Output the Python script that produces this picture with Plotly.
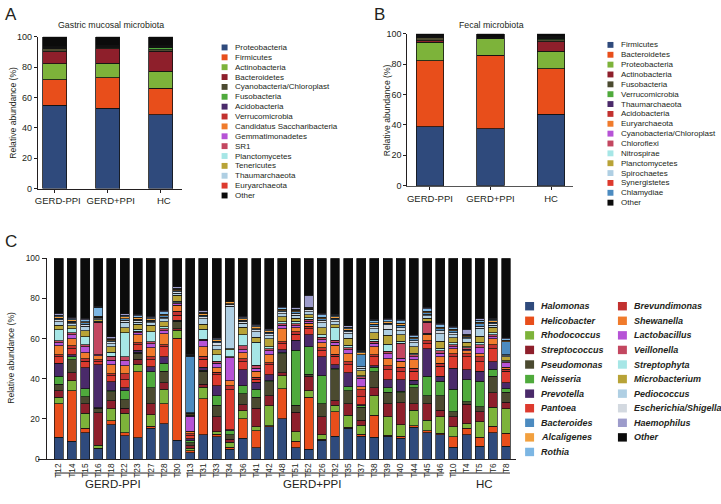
import plotly.graph_objects as go

W, H = 721, 504
FONT = "Liberation Sans, Arial, Helvetica, sans-serif"
TXT = "#231f20"
AX = "#231f20"


def px(x):
    return x / W


def py(y):
    return 1 - y / H


# ---------------- Panel A: gastric mucosal microbiota (phylum) ----------------
groups = ["GERD-PPI", "GERD+PPI", "HC"]
gastric_phyla = ["Proteobacteria", "Firmicutes", "Actinobacteria", "Bacteroidetes",
                 "Cyanobacteria/Chloroplast", "Fusobacteria", "Acidobacteria",
                 "Verrucomicrobia", "Candidatus Saccharibacteria", "Gemmatimonadetes",
                 "SR1", "Planctomycetes", "Tenericutes", "Thaumarchaeota",
                 "Euryarchaeota", "Other"]
gastric_colors = ["#2f4a7c", "#e84e1b", "#7db33a", "#8e1f2b", "#4b4a30", "#4faa3c",
                  "#4a2a6a", "#c2312f", "#f07b2c", "#b653d6", "#c34760", "#a6e6e6",
                  "#b8a337", "#afcfe3", "#dd3a2e", "#0b0b0b"]
gastric_gerd_minus_ppi = [55.0, 16.7, 10.5, 7.7, 2.0, 0.3, 0.2, 0.2, 0.2, 0.1, 0.1, 0.1, 0.1, 0.1, 0.1, 6.6]
gastric_gerd_plus_ppi = [52.9, 19.9, 9.6, 9.5, 1.2, 0.2, 0.1, 0.2, 0.2, 0.1, 0.1, 0.1, 0.1, 0.1, 0.1, 5.6]
gastric_hc = [48.6, 17.6, 10.9, 13.3, 1.0, 1.5, 0.1, 0.3, 0.2, 0.1, 0.1, 0.1, 0.1, 0.1, 0.1, 5.8]

# ---------------- Panel B: fecal microbiota (phylum) ----------------
fecal_phyla = ["Firmicutes", "Bacteroidetes", "Proteobacteria", "Actinobacteria",
               "Fusobacteria", "Verrucomicrobia", "Thaumarchaeota", "Acidobacteria",
               "Euryarchaeota", "Cyanobacteria/Chloroplast", "Chloroflexi", "Nitrospirae",
               "Planctomycetes", "Spirochaetes", "Synergistetes", "Chlamydiae", "Other"]
fecal_colors = ["#2f4a7c", "#e84e1b", "#7db33a", "#8e1f2b", "#4b4a30", "#4faa3c",
                "#4a2a6a", "#c2312f", "#f07b2c", "#b653d6", "#c34760", "#a6e6e6",
                "#b8a337", "#afcfe3", "#dd3a2e", "#4c8bc0", "#0b0b0b"]
fecal_gerd_minus_ppi = [38.9, 43.3, 12.2, 1.0, 2.2, 0.3, 0.1, 0.2, 0.1, 0.1, 0.1, 0.1, 0.1, 0.1, 0.1, 0.1, 1.0]
fecal_gerd_plus_ppi = [37.6, 48.2, 10.8, 0.1, 0.1, 0.1, 0.05, 0.05, 0.05, 0.05, 0.05, 0.05, 0.05, 0.05, 0.05, 0.05, 2.6]
fecal_hc = [47.1, 29.7, 11.8, 6.0, 1.3, 1.0, 0.2, 0.3, 0.1, 0.2, 0.1, 0.1, 0.1, 0.1, 0.1, 0.1, 1.7]

# ---------------- Panel C: gastric mucosal genera per sample ----------------
samples = ["T12", "T14", "T15", "T16", "T18", "T22", "T23", "T27", "T28", "T30",
           "T13", "T31", "T33", "T34", "T36", "T41", "T42", "T48", "T51", "T52",
           "T26", "T32", "T35", "T37", "T38", "T39", "T40", "T44", "T45", "T46",
           "T10", "T4", "T5", "T6", "T8"]
sample_groups = [("GERD-PPI", "T12", "T30"), ("GERD+PPI", "T13", "T46"), ("HC", "T10", "T8")]

halomonas = [10.9, 9, 13, 5.2, 17, 11.7, 10.6, 15.4, 17.7, 9.4, 3.2, 12.2, 11.2, 4.8, 10.5, 5.7, 16, 20.2, 5.6, 4.8,
             9.5, 11.3, 15.4, 11.5, 10.8, 11.3, 10.5, 15.8, 13, 12.1, 5.8, 12, 6.4, 13, 6.4]
helicobacter = [16.6, 25, 2.4, 0.3, 2, 1.3, 33, 1, 9.8, 50.8, 1, 17.8, 1.2, 1.2, 9.5, 8.3, 0.5, 14.8, 3.2, 25.9,
                0.5, 12.2, 0.5, 0.8, 11, 0.5, 0.8, 0.8, 1.2, 0.8, 5.3, 3.3, 4.6, 3.3, 6.5]
rhodococcus = [3.2, 5, 7.4, 1.5, 6, 9.8, 3.6, 5.6, 7.3, 4, 1.2, 5.8, 1.2, 2.5, 4, 2.2, 10, 6.5, 4.9, 3.3,
               2, 3.2, 5.9, 4.5, 9.8, 9.2, 5.7, 7.7, 5.2, 8.1, 4.9, 2.4, 7.6, 9.5, 12.2]
streptococcus = [3.3, 4, 4.8, 16, 4, 2.4, 2.4, 5.5, 3.2, 0.8, 1.2, 1.5, 7.4, 1.5, 3, 9, 5, 1.5, 9.7, 7.3,
                 9, 2.4, 5.7, 2.5, 4, 6.5, 11, 3.2, 8.1, 3.3, 5, 9.7, 4.9, 7.3, 3.3]
pseudomonas = [3.2, 6.5, 3.4, 2.2, 4.5, 4.4, 3.2, 8, 5.7, 3.3, 1.5, 6.5, 5.7, 2, 5.5, 5.5, 7, 9.5, 3.3, 1,
               6.5, 15.4, 6.5, 6.5, 8, 5.7, 5, 8.1, 4.1, 7.3, 2.5, 1.2, 2.5, 8.2, 4.8]
neisseria = [4.1, 1.5, 4, 0.3, 0.5, 4.5, 0.5, 8, 4.1, 0.3, 1, 0.5, 4.8, 2, 4, 4, 0.5, 0.5, 27.5, 13.5,
             14, 0.5, 2, 0.8, 2, 2.4, 0.8, 1.6, 9.7, 7.2, 11.3, 11, 12.8, 3.5, 1.7]
prevotella = [6.5, 1, 10.5, 21.5, 4.5, 1.5, 1, 2.5, 3.2, 0.5, 1, 1.5, 4.9, 0.5, 8, 3.5, 3, 1.5, 5, 6,
              9.5, 2, 7, 0.5, 0.8, 4, 5.8, 2, 13.7, 2.5, 10.5, 4.8, 4.9, 3.7, 3.2]
pantoea = [3.2, 3, 3.3, 1.5, 3, 3.8, 2.5, 3.5, 5, 2.4, 1.5, 4, 5.6, 20, 4, 1.5, 5, 3, 3, 3.2,
           3, 4.2, 4, 4, 4.6, 4.9, 4, 4.5, 2.4, 4.8, 5.7, 6.5, 4.8, 6.5, 5.7]
brevundimonas = [1.0, 1.5, 1.2, 1, 1, 3, 1, 1.5, 1, 2, 1, 1.5, 1.2, 2, 1.5, 1, 1, 1, 1.2, 1.2,
                 1.5, 1, 1.5, 3.5, 1, 2, 2, 1.5, 1.5, 1.5, 1.5, 1.5, 2.5, 2, 1]
shewanella = [4.4, 3.5, 3, 2, 4.5, 4, 4, 4.5, 5.5, 3, 1.3, 4.5, 2.2, 2.5, 3, 3, 4, 6.5, 2, 1.5,
              2.5, 4.4, 4, 1.5, 4, 3.5, 3, 4.2, 3.3, 3.4, 2.5, 1.5, 1.5, 3, 1]
lactobacillus = [1.6, 2, 3, 0.5, 2.3, 2.5, 1, 2, 1.5, 0.8, 7.5, 3.3, 2.4, 11.5, 1.5, 1.5, 2, 1.5, 1, 1,
                 1.5, 1.6, 2, 4.2, 1.6, 2.5, 1.5, 1.5, 0.5, 1.8, 1, 0.8, 3, 1, 2.2]
veillonella = [0.8, 0.8, 0.8, 16, 2, 2, 0.8, 0.8, 0.8, 0.6, 0.5, 0.6, 1, 0.5, 2, 1.5, 1, 0.8, 1, 0.8,
               1.2, 1, 1, 0.8, 1, 1.2, 7.5, 1, 5.5, 1.2, 1, 0.6, 1.5, 1, 0.5]
streptophyta = [5.7, 2, 4, 0.5, 2, 12, 1, 5, 1, 0.6, 0.3, 5, 3.1, 3.5, 5.5, 11.5, 1, 1, 1.2, 0.8,
                1.2, 6.2, 1.2, 0.5, 1, 3.5, 1, 0.8, 0.5, 1.2, 1, 0.6, 1.2, 1, 0.5]
microbacterium = [2.0, 1.5, 3.2, 0.8, 2.5, 2.4, 2.5, 3.3, 2.5, 3, 0.3, 2.5, 2.5, 0.5, 3.5, 2.5, 4, 2.5, 1.5, 1.5,
                  3.5, 1.5, 3.5, 2.3, 3.4, 4.5, 3.3, 3.3, 1.5, 3.5, 2.5, 2.3, 3, 2.5, 1.9]
pediococcus = [1.8, 1, 2, 0.6, 1.5, 2.7, 1, 1.2, 1.5, 1, 0.3, 2.6, 2, 21, 2.2, 2.7, 1.5, 1.5, 1.5, 1.5,
               2.5, 1.5, 2.1, 1.4, 2, 3, 2, 2, 1.2, 3.6, 1.5, 1.6, 4, 1, 0.5]
escherichia_shigella = [1.0, 0.8, 1.2, 0.5, 1.2, 1, 1, 0.8, 0.8, 0.8, 0.3, 1, 1.6, 1, 0.8, 1, 1, 1, 1, 1,
                        1.2, 1, 1, 0.6, 1.2, 2.1, 1.5, 1, 0.7, 1.5, 1, 0.6, 1, 0.8, 0.5]
bacteroides = [0.8, 0.6, 0.6, 0.3, 0.5, 0.8, 0.6, 0.5, 0.8, 0.5, 28, 0.8, 0.6, 0.3, 0.6, 0.6, 0.6, 0.6, 0.8, 0.4,
               0.8, 0.6, 0.8, 6, 0.8, 0.8, 1.2, 0.8, 0.8, 1, 0.8, 0.6, 1.2, 0.8, 6.5]
alcaligenes = [0.8, 0.6, 0.6, 0.5, 0.6, 1, 1, 0.8, 0.8, 0.8, 0.3, 1, 0.8, 0.9, 0.8, 0.8, 0.8, 0.8, 0.8, 0.4,
               0.8, 0.8, 0.8, 1, 0.8, 0.8, 1, 0.8, 0.8, 0.8, 0.8, 0.6, 0.8, 0.8, 0.8]
rothia = [0.8, 0.6, 1, 4.5, 0.4, 0.8, 0.6, 0.5, 1.2, 0.5, 0.3, 0.6, 0.5, 0.3, 0.5, 0.6, 0.5, 0.6, 0.5, 0.5,
          1.2, 0.8, 0.8, 0.8, 1.2, 1, 1.2, 0.8, 1.2, 1.2, 0.8, 0.6, 1, 0.6, 0.8]
haemophilus = [0.8, 0.6, 0.6, 0.3, 1, 0.8, 0.8, 0.6, 0.7, 0.6, 0.5, 0.8, 0.6, 0.3, 0.6, 0.6, 0.6, 0.6, 0.8, 6,
               0.6, 0.6, 0.6, 0.6, 0.6, 0.6, 0.8, 0.6, 0.8, 0.8, 0.6, 2.5, 0.8, 0.5, 0.5]
other_genera = [27.5, 29.5, 30, 24, 39, 27.6, 27.9, 29, 25.9, 14.3, 47.8, 26, 39.5, 21.2, 29, 33, 35, 24.1, 24.5, 18.4,
                27.5, 27.8, 33.7, 45.7, 30.4, 30, 30.4, 38, 24.3, 32.4, 34, 35.3, 30, 30, 39.5]

genus_values = {
    "Halomonas": halomonas, "Helicobacter": helicobacter, "Rhodococcus": rhodococcus,
    "Streptococcus": streptococcus, "Pseudomonas": pseudomonas, "Neisseria": neisseria,
    "Prevotella": prevotella, "Pantoea": pantoea, "Bacteroides": bacteroides,
    "Alcaligenes": alcaligenes, "Rothia": rothia, "Brevundimonas": brevundimonas,
    "Shewanella": shewanella, "Lactobacillus": lactobacillus, "Veillonella": veillonella,
    "Streptophyta": streptophyta, "Microbacterium": microbacterium, "Pediococcus": pediococcus,
    "Escherichia/Shigella": escherichia_shigella, "Haemophilus": haemophilus, "Other": other_genera,
}
genus_colors = {
    "Halomonas": "#2f4a7c", "Helicobacter": "#e84e1b", "Rhodococcus": "#7db33a",
    "Streptococcus": "#8e1f2b", "Pseudomonas": "#4b4a30", "Neisseria": "#4faa3c",
    "Prevotella": "#4a2a6a", "Pantoea": "#dd3a2e", "Bacteroides": "#4c8bc0",
    "Alcaligenes": "#f2a03e", "Rothia": "#7cb6e3", "Brevundimonas": "#c2312f",
    "Shewanella": "#f07b2c", "Lactobacillus": "#b653d6", "Veillonella": "#c34760",
    "Streptophyta": "#a6e6e6", "Microbacterium": "#b8a337", "Pediococcus": "#afcfe3",
    "Escherichia/Shigella": "#d3d9e0", "Haemophilus": "#9d9ccb", "Other": "#0b0b0b",
}
legend_col1 = ["Halomonas", "Helicobacter", "Rhodococcus", "Streptococcus", "Pseudomonas",
               "Neisseria", "Prevotella", "Pantoea", "Bacteroides", "Alcaligenes", "Rothia"]
legend_col2 = ["Brevundimonas", "Shewanella", "Lactobacillus", "Veillonella", "Streptophyta",
               "Microbacterium", "Pediococcus", "Escherichia/Shigella", "Haemophilus", "Other"]
stack_order = ["Halomonas", "Helicobacter", "Rhodococcus", "Streptococcus", "Pseudomonas",
               "Neisseria", "Prevotella", "Pantoea", "Brevundimonas", "Shewanella",
               "Lactobacillus", "Veillonella", "Streptophyta", "Microbacterium", "Pediococcus",
               "Escherichia/Shigella", "Bacteroides", "Alcaligenes", "Rothia", "Haemophilus", "Other"]

fig = go.Figure()
LINE = dict(color="#111111", width=0.8)

# Panel A bars
for j, name in enumerate(gastric_phyla):
    fig.add_trace(go.Bar(
        x=groups, y=[gastric_gerd_minus_ppi[j], gastric_gerd_plus_ppi[j], gastric_hc[j]],
        name=name, marker=dict(color=gastric_colors[j], line=LINE), width=0.45,
        xaxis="x", yaxis="y", showlegend=False))

# Panel B bars
for j, name in enumerate(fecal_phyla):
    fig.add_trace(go.Bar(
        x=groups, y=[fecal_gerd_minus_ppi[j], fecal_gerd_plus_ppi[j], fecal_hc[j]],
        name=name, marker=dict(color=fecal_colors[j], line=LINE), width=0.45,
        xaxis="x2", yaxis="y2", showlegend=False))

# Panel C bars
for name in stack_order:
    fig.add_trace(go.Bar(
        x=samples, y=genus_values[name], name=name,
        marker=dict(color=genus_colors[name], line=dict(color="#111111", width=0.7)),
        width=0.68, xaxis="x3", yaxis="y3", showlegend=False))

shapes = []
annotations = []

tickfont = dict(family=FONT, size=9, color=TXT)
common_y = dict(range=[0, 100], tickvals=[0, 20, 40, 60, 80, 100], ticks="outside", ticklen=3,
                tickcolor=AX, showline=True, linecolor=AX, linewidth=1, showgrid=False,
                zeroline=False, tickfont=tickfont, fixedrange=True)

layout = dict(
    width=W, height=H, autosize=False, margin=dict(l=0, r=0, t=0, b=0),
    paper_bgcolor="white", plot_bgcolor="white", barmode="stack", bargap=0,
    font=dict(family=FONT, color=TXT),
    xaxis=dict(domain=[px(35), px(180)], range=[-0.32, 2.406], type="category", anchor="y",
               showline=True, linecolor=AX, linewidth=1, ticks="outside", ticklen=3, tickcolor=AX,
               tickfont=dict(family=FONT, size=9.5, color=TXT), showgrid=False, ticklabelshift=3),
    yaxis=dict(domain=[py(187.3), py(32.3)], anchor="x", **common_y),
    xaxis2=dict(domain=[px(406), px(572)], range=[-0.373, 2.357], type="category", anchor="y2",
                showline=True, linecolor="#555555", linewidth=1.5, ticks="outside", ticklen=3,
                tickcolor=AX, tickfont=dict(family=FONT, size=9.5, color=TXT), showgrid=False),
    yaxis2=dict(domain=[py(184.3), py(29.3)], anchor="x2", **common_y),
    xaxis3=dict(domain=[px(35), px(515)], range=[-1.59, 34.75], type="category", anchor="y3",
                showline=True, linecolor=AX, linewidth=1, ticks="", tickangle=-90,
                tickfont=dict(family=FONT, size=8.3, color=TXT), showgrid=False),
    yaxis3=dict(domain=[py(463.3), py(258.3)], anchor="free", position=px(42.7),
                **{**common_y, "ticklen": 4, "tickfont": dict(family=FONT, size=8.5, color=TXT)}),
)


def text(x, y, s, size, xanchor="center", yanchor="middle", angle=0, **fontkw):
    annotations.append(dict(x=px(x), y=py(y), xref="paper", yref="paper", text=s,
                            showarrow=False, xanchor=xanchor, yanchor=yanchor, textangle=angle,
                            font=dict(family=FONT, size=size, color=TXT, **fontkw)))


text(0, 10, "A", 17, xanchor="left")
text(371, 10, "B", 17, xanchor="left")
text(0, 241, "C", 17, xanchor="left")
text(108, 20.7, "Gastric mucosal microbiota", 8.8)
text(491, 20.7, "Fecal microbiota", 8.8)
text(10, 110, "Relative abundance (%)", 8.6, angle=-90)
text(385, 107, "Relative abundance (%)", 8.6, angle=-90)
text(8, 360, "Relative abundance (%)", 8.6, angle=-90)

# Legend A
for k, name in enumerate(gastric_phyla):
    yc = 43.3 + 10.07 * k
    shapes.append(dict(type="rect", xref="paper", yref="paper", x0=px(219.5), x1=px(225.5),
                       y0=py(yc + 3), y1=py(yc - 3), fillcolor=gastric_colors[k], line=dict(width=0)))
    text(231, yc, name, 8, xanchor="left")

# Legend B
for k, name in enumerate(fecal_phyla):
    yc = 40.7 + 10.06 * k
    shapes.append(dict(type="rect", xref="paper", yref="paper", x0=px(607), x1=px(613),
                       y0=py(yc + 3), y1=py(yc - 3), fillcolor=fecal_colors[k], line=dict(width=0)))
    text(619, yc, name, 8, xanchor="left")

# Legend C (two columns)
for col, (names, sx, tx) in enumerate([(legend_col1, 524.3, 538), (legend_col2, 617.5, 632)]):
    for k, name in enumerate(names):
        yc = 307.3 + 14.87 * k
        shapes.append(dict(type="rect", xref="paper", yref="paper", x0=px(sx), x1=px(sx + 9),
                           y0=py(yc + 4.3), y1=py(yc - 4.3), fillcolor=genus_colors[name],
                           line=dict(width=0)))
        text(tx, yc, name, 9, xanchor="left", weight="bold", style="italic")

# Panel C group brackets and labels
label_x = {"GERD-PPI": 110, "GERD+PPI": 310, "HC": 484}
for gname, first, last in sample_groups:
    i0, i1 = samples.index(first), samples.index(last)
    shapes.append(dict(type="line", xref="x3", yref="paper", x0=i0 - 0.3, x1=i1 + 0.3,
                       y0=py(477.5), y1=py(477.5), line=dict(color=AX, width=1)))
    text(label_x[gname], 489, gname, 11.5)

layout["shapes"] = shapes
layout["annotations"] = annotations
fig.update_layout(**layout)

fig.write_html("out.html", config={"displayModeBar": False, "staticPlot": True},
               post_script="document.body.style.margin='0';")
